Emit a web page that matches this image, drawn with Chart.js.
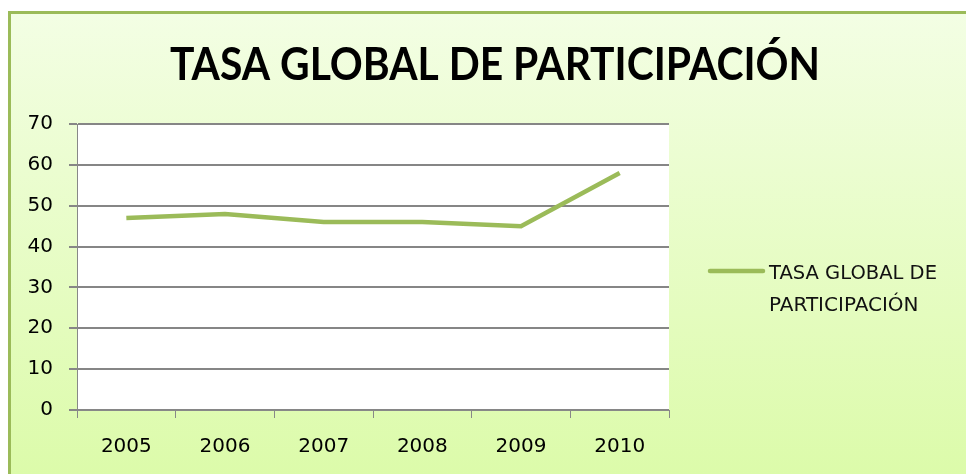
<!DOCTYPE html>
<html>
<head>
<meta charset="utf-8">
<script src="https://cdn.jsdelivr.net/npm/chart.js@4"></script>
<style>
  html, body { margin: 0; padding: 0; background: #fff; }
  #wrap { width: 966px; height: 474px; }
</style>
</head>
<body>
<div id="wrap"><canvas id="tasaChart" width="966" height="474"></canvas></div>
<script>
// datos
var anios = ['2005', '2006', '2007', '2008', '2009', '2010'];
var tasa = [47, 48, 46, 46, 45, 58];
var titulo = 'TASA GLOBAL DE PARTICIPACIÓN';
var serieNombre = ['TASA GLOBAL DE', 'PARTICIPACIÓN'];
var verde = '#9BBB59';

// fondo, titulo y leyenda dibujados a mano
var fondoPlugin = {
  id: 'fondo',
  beforeDraw: function (chart) {
    var ctx = chart.ctx;
    var a = chart.chartArea;
    ctx.save();
    ctx.fillStyle = '#fff';
    ctx.fillRect(0, 0, chart.width, chart.height);
    var g = ctx.createLinearGradient(0, 12, 0, 474);
    g.addColorStop(0, '#F3FEE4');
    g.addColorStop(1, '#DCFBAA');
    ctx.fillStyle = g;
    ctx.fillRect(9, 12, 970, 470);
    ctx.strokeStyle = verde;
    ctx.lineWidth = 3;
    ctx.strokeRect(9.5, 12.5, 970, 470);
    ctx.fillStyle = '#fff';
    ctx.fillRect(a.left, a.top, a.right - a.left, a.bottom - a.top);
    ctx.restore();
  },
  afterDraw: function (chart) {
    var ctx = chart.ctx;
    ctx.save();
    ctx.fillStyle = '#000';
    ctx.textAlign = 'center';
    ctx.textBaseline = 'alphabetic';
    ctx.font = 'bold 45px Lato';
    ctx.fillText(titulo, 495, 80, 650);

    // leyenda
    ctx.strokeStyle = verde;
    ctx.lineWidth = 4.5;
    ctx.lineCap = 'round';
    ctx.beginPath();
    ctx.moveTo(710, 271);
    ctx.lineTo(763, 271);
    ctx.stroke();
    ctx.textAlign = 'left';
    ctx.font = '20px "DejaVu Sans"';
    ctx.fillStyle = '#111';
    ctx.fillText(serieNombre[0], 769, 279, 168);
    ctx.fillText(serieNombre[1], 769, 311, 163);
    ctx.restore();
  }
};

const ctx = document.getElementById('tasaChart');

new Chart(ctx, {
  type: 'line',
  data: {
    labels: anios,
    datasets: [{
      label: serieNombre.join(' '),
      data: tasa,
      borderColor: verde,
      backgroundColor: verde,
      borderWidth: 4.5,
      pointRadius: 0,
      tension: 0,
      fill: false
    }]
  },
  options: {
    responsive: false,
    animation: false,
    layout: { padding: { left: 0, top: 124, right: 297, bottom: 0 } },
    plugins: {
      legend: { display: false },
      title: { display: false },
      tooltip: { enabled: false }
    },
    scales: {
      x: {
        offset: true,
        afterFit: function (s) { s.height = 64; },
        grid: {
          offset: true,
          drawOnChartArea: false,
          drawTicks: true,
          tickLength: 8,
          color: '#888',
          lineWidth: 1
        },
        border: { color: '#888', width: 1 },
        ticks: {
          color: '#000',
          padding: 17,
          maxRotation: 0,
          autoSkip: false,
          font: { family: 'DejaVu Sans', size: 20 }
        }
      },
      y: {
        min: 0,
        max: 70,
        afterFit: function (s) { s.width = 77; },
        ticks: {
          stepSize: 10,
          color: '#000',
          padding: 16,
          font: { family: 'DejaVu Sans', size: 20 }
        },
        grid: {
          color: '#868686',
          lineWidth: 2,
          tickLength: 8
        },
        border: { color: '#888', width: 1 }
      }
    }
  },
  plugins: [fondoPlugin]
});
</script>
</body>
</html>
